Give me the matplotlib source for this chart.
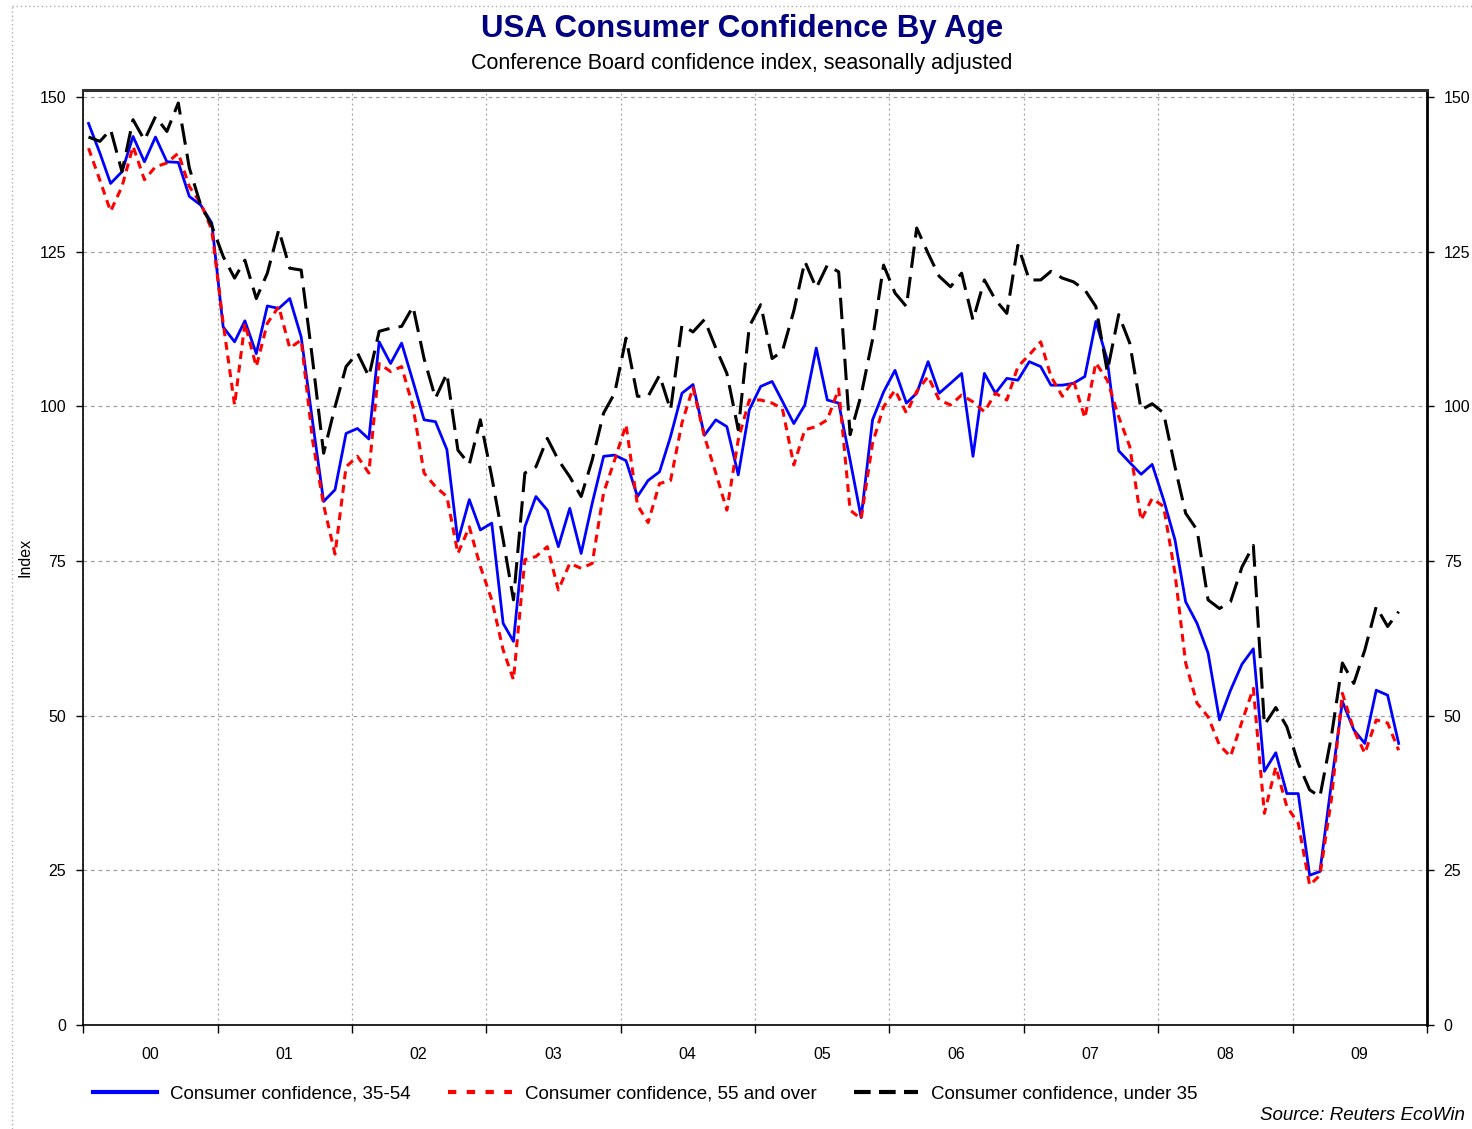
import numpy as np
import pandas as pd
import matplotlib
matplotlib.use("Agg")
import matplotlib.pyplot as plt
import matplotlib.dates as mdates
from matplotlib.lines import Line2D

plt.rcParams["font.family"] = ["Liberation Sans", "DejaVu Sans"]

# Monthly readings, Jan 2000 - Oct 2009
months = pd.date_range("2000-01-01", periods=118, freq="MS")

age_35_54 = [
    145.7, 140.9, 136.0, 137.9, 143.6, 139.5, 143.5, 139.5, 139.4, 133.9, 132.5, 129.6,
    112.8, 110.4, 113.8, 108.5, 116.2, 115.8, 117.4, 111.2, 97.5, 84.6, 86.5, 95.6,
    96.4, 94.7, 110.4, 106.9, 110.2, 104.0, 97.8, 97.5, 93.0, 78.2, 84.9, 80.0,
    81.1, 64.9, 62.0, 80.5, 85.4, 83.2, 77.3, 83.5, 76.2, 84.3, 91.9, 92.1,
    91.2, 85.4, 88.0, 89.4, 95.1, 102.1, 103.5, 95.3, 97.8, 96.7, 88.9, 99.4,
    103.2, 104.0, 100.8, 97.2, 100.2, 109.4, 101.0, 100.5, 91.3, 82.0, 97.8, 102.3,
    105.8, 100.5, 102.1, 107.2, 102.1, 103.7, 105.3, 91.9, 105.3, 102.1, 104.5, 104.2,
    107.2, 106.4, 103.4, 103.4, 103.7, 104.8, 113.7, 107.5, 92.8, 90.9, 89.0, 90.6,
    84.9, 78.4, 68.4, 64.9, 60.1, 49.3, 54.1, 58.3, 60.8, 41.0, 44.0, 37.4,
    37.4, 24.2, 24.8, 39.0, 52.3, 47.7, 45.5, 54.1, 53.3, 45.5,
]

age_55_over = [
    141.7, 136.5, 131.5, 135.5, 142.0, 136.6, 138.7, 139.3, 140.9, 135.5, 132.8, 128.5,
    113.4, 100.2, 113.4, 106.4, 113.4, 116.1, 109.4, 110.7, 94.5, 84.0, 76.1, 90.2,
    91.9, 89.2, 106.9, 105.6, 106.4, 99.9, 89.2, 87.0, 85.4, 76.2, 80.5, 74.1,
    68.7, 60.6, 55.8, 75.2, 75.7, 77.3, 70.3, 74.6, 73.8, 74.6, 86.0, 91.3,
    97.0, 84.0, 81.2, 87.5, 88.0, 97.3, 103.0, 95.1, 89.2, 83.2, 94.6, 101.0,
    101.0, 100.5, 99.6, 90.5, 96.2, 96.7, 97.8, 102.8, 83.2, 81.8, 94.0, 99.9,
    102.6, 98.9, 102.4, 104.8, 101.0, 100.2, 101.8, 100.7, 99.1, 102.1, 101.0, 106.4,
    108.3, 110.4, 104.8, 101.6, 104.2, 98.1, 107.0, 104.2, 98.3, 93.5, 81.6, 85.1,
    83.8, 73.0, 58.5, 52.0, 49.8, 45.2, 43.4, 49.0, 54.4, 34.2, 41.7, 35.3,
    32.6, 22.6, 24.2, 36.4, 53.6, 47.7, 43.9, 49.3, 48.8, 44.4,
]

age_under_35 = [
    143.5, 142.8, 144.7, 137.9, 146.3, 143.0, 146.8, 144.4, 149.0, 138.5, 132.5, 129.2,
    124.2, 120.7, 123.6, 117.4, 121.5, 128.5, 122.3, 122.0, 107.5, 92.4, 99.9, 106.4,
    108.6, 104.8, 112.1, 112.6, 112.9, 116.1, 107.7, 101.3, 105.3, 92.9, 90.6, 97.8,
    88.6, 78.4, 68.7, 89.2, 90.2, 94.8, 91.3, 88.6, 85.4, 91.3, 98.9, 102.1,
    111.0, 101.6, 101.6, 105.0, 99.4, 113.1, 112.0, 114.0, 109.4, 105.3, 96.2, 112.9,
    116.4, 107.7, 108.9, 115.4, 123.4, 119.1, 122.8, 121.7, 95.4, 101.8, 110.8, 122.8,
    118.3, 116.1, 128.8, 124.7, 121.0, 119.3, 121.5, 113.9, 120.4, 117.2, 115.0, 126.0,
    120.4, 120.4, 121.8, 120.7, 120.1, 118.8, 116.1, 105.6, 114.8, 110.2, 99.4, 100.4,
    98.9, 90.2, 82.7, 80.0, 68.7, 67.3, 68.4, 74.0, 77.5, 48.5, 51.3, 48.2,
    42.3, 38.0, 36.9, 46.6, 58.5, 55.2, 60.6, 67.6, 64.4, 66.8,
]

labels = [
    "Consumer confidence, 35-54",
    "Consumer confidence, 55 and over",
    "Consumer confidence, under 35",
]

# plot each month at mid-month
x = months + pd.Timedelta(days=15)

W, H = 1472, 1129
fig = plt.figure(figsize=(W / 100, H / 100), dpi=100)
ax = fig.add_axes([83 / W, 1 - 1025 / H, (1427 - 83) / W, (1025 - 90) / H])

l1, = ax.plot(x, age_35_54, color="#0000ff", lw=2.0, zorder=3)
l2, = ax.plot(x, age_55_over, color="#ff0000", lw=2.2, dashes=(2.6, 1.9), zorder=3)
l3, = ax.plot(x, age_under_35, color="black", lw=2.2, dashes=(7.0, 3.0), zorder=4)

ax.set_xlim(pd.Timestamp("2000-01-01"), pd.Timestamp("2010-01-01"))
ax.set_ylim(0, 151.1)
ax.set_yticks([0, 25, 50, 75, 100, 125, 150])

ax.xaxis.set_major_locator(mdates.YearLocator())
ax.xaxis.set_major_formatter(plt.NullFormatter())
ax.xaxis.set_minor_locator(mdates.MonthLocator(bymonth=7))
ax.xaxis.set_minor_formatter(mdates.DateFormatter("%y"))
ax.tick_params(axis="x", which="major", length=6, width=1, direction="out")
ax.tick_params(axis="x", which="minor", length=0, pad=16, labelsize=11.5)
ax.tick_params(axis="y", which="major", length=5, width=1, direction="out",
               left=True, right=True, labelleft=True, labelright=True,
               labelsize=11.5, pad=7)

ax.grid(axis="y", color="#a0a0a0", linestyle=(0, (3, 3)), lw=0.9)
ax.grid(axis="x", which="major", color="#a0a0a0", linestyle=(0, (1.5, 2.5)), lw=0.9)
ax.set_axisbelow(True)

for side in ["left", "bottom", "right"]:
    ax.spines[side].set_color("black")
    ax.spines[side].set_linewidth(1.2)
ax.spines["right"].set_linewidth(2.0)
ax.spines["top"].set_color("#303030")
ax.spines["top"].set_linewidth(2.2)

fig.text(25 / W, 1 - 557 / H, "Index", rotation=90, ha="center", va="center", fontsize=11.5)

fig.text(0.504, 1 - 29 / H, "USA Consumer Confidence By Age", ha="center", va="center",
         fontsize=22.5, fontweight="bold", color="#000080")
fig.text(0.504, 1 - 64 / H, "Conference Board confidence index, seasonally adjusted",
         ha="center", va="center", fontsize=15.5)

leg_handles = [
    Line2D([], [], color="#0000ff", lw=3.0),
    Line2D([], [], color="#ff0000", lw=3.0, dashes=(2.0, 2.5)),
    Line2D([], [], color="black", lw=3.0, dashes=(4.0, 2.0)),
]
fig.legend(leg_handles, labels, loc="center left", bbox_to_anchor=(76 / W, 1 - 1094 / H),
           ncol=3, frameon=False, fontsize=13.5, handlelength=3.4, handletextpad=0.7,
           columnspacing=2.0)

fig.text(1465 / W, 1 - 1116 / H, "Source: Reuters EcoWin", ha="right", va="center",
         fontsize=13.5, style="italic")

# dotted outer frame (top and left edges visible in the original)
fig.add_artist(Line2D([12 / W, 1.0], [1 - 6 / H, 1 - 6 / H], transform=fig.transFigure,
                      color="#b0b0b0", lw=1, linestyle=(0, (1, 2))))
fig.add_artist(Line2D([12 / W, 12 / W], [0, 1 - 6 / H], transform=fig.transFigure,
                      color="#b0b0b0", lw=1, linestyle=(0, (1, 2))))

fig.savefig("out.png", dpi=100, facecolor="white")
